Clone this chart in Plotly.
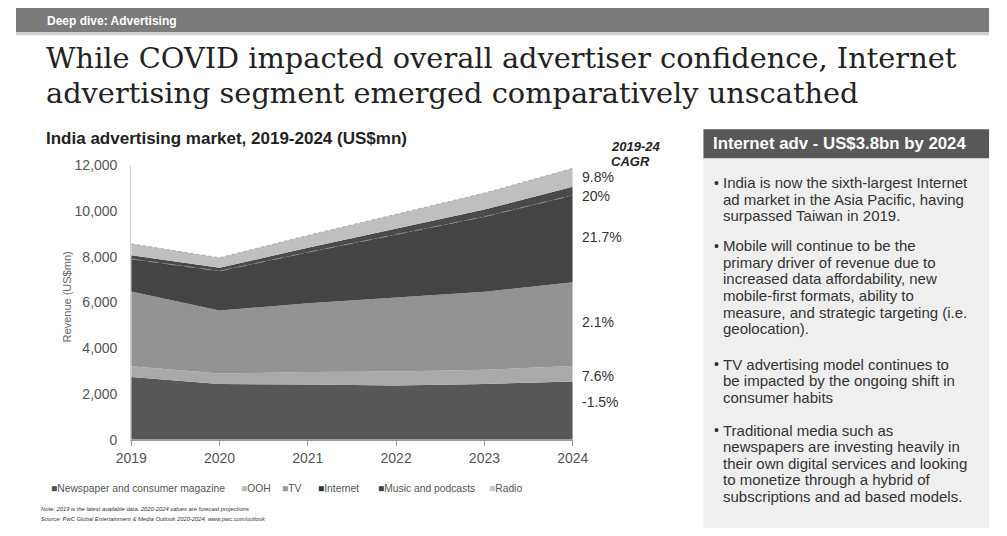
import plotly.graph_objects as go

W, H = 1007, 536

# ---------------- data ----------------
years = [2019, 2020, 2021, 2022, 2023, 2024]
series_names = ["Newspaper and consumer magazine", "OOH", "TV", "Internet",
                "Music and podcasts", "Radio"]
newspaper = [2740, 2440, 2410, 2370, 2440, 2540]
ooh = [470, 450, 550, 610, 620, 680]
tv = [3270, 2760, 3000, 3240, 3410, 3660]
internet = [1420, 1720, 2230, 2760, 3280, 3800]
music = [160, 150, 200, 250, 310, 380]
radio = [500, 430, 540, 640, 720, 800]
cagr_labels = ["-1.5%", "7.6%", "2.1%", "21.7%", "20%", "9.8%"]
y_ticks = [0, 2000, 4000, 6000, 8000, 10000, 12000]

title_lines = ["While COVID impacted overall advertiser confidence, Internet",
               "advertising segment emerged comparatively unscathed"]
bullets = [
    ["India is now the sixth-largest Internet", "ad market in the Asia Pacific, having",
     "surpassed Taiwan in 2019."],
    ["Mobile will continue to be the", "primary driver of revenue due to",
     "increased data affordability, new", "mobile-first formats, ability to",
     "measure, and strategic targeting (i.e.", "geolocation)."],
    ["TV advertising model continues to", "be impacted by the ongoing shift in",
     "consumer habits"],
    ["Traditional media such as", "newspapers are investing heavily in",
     "their own digital services and looking", "to monetize through a hybrid of",
     "subscriptions and ad based models."],
]

# ---------------- style ----------------
fills = ["#575757", "#a9a9a9", "#939393", "#444444", "#4a4a4a", "#bfbfbf"]
legend_marks = ["#555555", "#bdbdbd", "#9a9a9a", "#333333", "#444444", "#c8c8c8"]
SANS = "Liberation Sans, Arial, sans-serif"


def px(x):
    return x / W


def py(y):
    return 1 - y / H


fig = go.Figure()
values = [newspaper, ooh, tv, internet, music, radio]
for i, (name, vals) in enumerate(zip(series_names, values)):
    if name == "Internet":
        line = dict(width=1, color="#8a8a8a", dash="dash")
    elif name == "Radio":
        line = dict(width=1, color="#a8a8a8", dash="dot")
    else:
        line = dict(width=0, color=fills[i])
    fig.add_trace(go.Scatter(
        x=years, y=vals, name=name, stackgroup="one", mode="lines",
        line=line, fillcolor=fills[i], showlegend=False, hoverinfo="skip"))

x0, x1 = 119, 575
y_top, y_bot = 162, 445

fig.update_layout(
    width=W, height=H, margin=dict(l=0, r=0, t=0, b=0),
    paper_bgcolor="white", plot_bgcolor="white", showlegend=False,
    xaxis=dict(domain=[px(x0), px(x1)], range=[2019, 2024], tickvals=years,
               showgrid=False, zeroline=False, showline=True, linecolor="#9a9a9a",
               ticks="outside", ticklen=5, tickcolor="#9a9a9a",
               tickfont=dict(family=SANS, size=14, color="#555555")),
    yaxis=dict(domain=[py(y_bot), py(y_top)], range=[0, 12000], tickvals=y_ticks,
               tickformat=",d", showgrid=False, zeroline=False, showline=True,
               linecolor="#d0d0d0", ticks="", ticklabelstandoff=10,
               tickfont=dict(family=SANS, size=14, color="#555555")),
)

shapes = []
shapes.append(dict(type="rect", xref="paper", yref="paper", x0=px(0), x1=px(1005),
                   y0=py(25), y1=py(0), fillcolor="#7b7b7b", line_width=0, layer="below"))
shapes.append(dict(type="rect", xref="paper", yref="paper", x0=px(0), x1=px(1005),
                   y0=py(28), y1=py(25), fillcolor="#cfcfcf", line_width=0, layer="below"))
shapes.append(dict(type="rect", xref="paper", yref="paper", x0=px(710), x1=px(1005),
                   y0=py(536), y1=py(155), fillcolor="#efefef", line_width=0, layer="below"))
shapes.append(dict(type="rect", xref="paper", yref="paper", x0=px(710), x1=px(1005),
                   y0=py(155), y1=py(125), fillcolor="#585858", line_width=0, layer="below"))
fig.update_layout(shapes=shapes)

ann = []
ann.append(dict(text="<b>Deep dive: Advertising</b>", x=px(30), y=py(13), xanchor="left",
                yanchor="middle", font=dict(family=SANS, size=12, color="white")))
for t, yy in zip(title_lines, [52, 88]):
    ann.append(dict(text=t, x=px(29), y=py(yy), xanchor="left", yanchor="middle",
                    font=dict(family="DejaVu Serif, serif", size=28.8, color="#222222")))
ann.append(dict(text="<b>India advertising market, 2019-2024 (US$mn)</b>", x=px(29), y=py(134),
                xanchor="left", yanchor="middle",
                font=dict(family=SANS, size=17, color="#222222")))
ann.append(dict(text="Revenue (US$mn)", x=px(53), y=py(298), textangle=-90,
                xanchor="center", yanchor="middle",
                font=dict(family=SANS, size=11, color="#666666")))
ann.append(dict(text="<b><i>2019-24</i></b>", x=px(612), y=py(143), xanchor="left",
                yanchor="middle", font=dict(family=SANS, size=13, color="#222222")))
ann.append(dict(text="<b><i>CAGR</i></b>", x=px(612), y=py(158), xanchor="left",
                yanchor="middle", font=dict(family=SANS, size=13, color="#222222")))
cagr_y = [406, 379, 324, 236, 194, 174]
for lab, yy in zip(cagr_labels, cagr_y):
    ann.append(dict(text=lab, x=px(582), y=py(yy), xanchor="left", yanchor="middle",
                    font=dict(family=SANS, size=14, color="#333333")))

# legend
leg_x = [34, 230, 273, 310, 372, 486]
for name, col, lx in zip(series_names, legend_marks, leg_x):
    ann.append(dict(text=f"<span style='color:{col}'>■</span>{name}", x=px(lx), y=py(495),
                    xanchor="left", yanchor="middle",
                    font=dict(family=SANS, size=10.3, color="#555555")))

# notes
ann.append(dict(text="<i>Note: 2019 is the latest available data. 2020-2024 values are forecast projections</i>",
                x=px(24), y=py(516), xanchor="left", yanchor="middle",
                font=dict(family=SANS, size=5.8, color="#333333")))
ann.append(dict(text="<i>Source: PwC Global Entertainment &amp; Media Outlook 2020-2024, www.pwc.com/outlook</i>",
                x=px(24), y=py(527), xanchor="left", yanchor="middle",
                font=dict(family=SANS, size=5.8, color="#333333")))

# panel
ann.append(dict(text="<b>Internet adv - US$3.8bn by 2024</b>", x=px(718), y=py(140),
                xanchor="left", yanchor="middle",
                font=dict(family=SANS, size=16.8, color="white")))
bullet_first = [180, 245, 367, 435]
pitch = 17.1
for lines, first in zip(bullets, bullet_first):
    ann.append(dict(text="•", x=px(719), y=py(first), xanchor="left", yanchor="middle",
                    font=dict(family=SANS, size=14, color="#333333")))
    for k, ln in enumerate(lines):
        ann.append(dict(text=ln, x=px(728), y=py(first + k * pitch), xanchor="left",
                        yanchor="middle", font=dict(family=SANS, size=15, color="#333333")))

for a in ann:
    a.setdefault("xref", "paper")
    a.setdefault("yref", "paper")
    a.setdefault("showarrow", False)
fig.update_layout(annotations=ann)

fig.write_html("out.html")
